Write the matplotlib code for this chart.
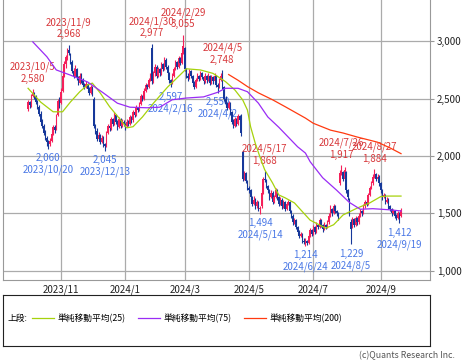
import numpy as np
import pandas as pd
import matplotlib
matplotlib.use('Agg')
import matplotlib.pyplot as plt

plt.rcParams['font.family'] = ['Noto Sans CJK JP', 'DejaVu Sans']

# 東証の休場日（期間内）
holidays = ['2023-10-09', '2023-11-03', '2023-11-23', '2024-01-01', '2024-01-02', '2024-01-03',
            '2024-01-08', '2024-02-12', '2024-02-23', '2024-03-20', '2024-04-29', '2024-05-03',
            '2024-05-06', '2024-07-15', '2024-08-12', '2024-09-16']
days = pd.bdate_range('2023-10-02', '2024-09-20', freq='C', holidays=holidays)

# 日足（始値・高値・安値・終値）
opens = [
    2410,2470,2440,2520,2550,2510,2470,2430,2370,2300,2260,2200,2160,2110,2100,2130,2190,2250,2240,2360,2480,  # 10月
    2460,2570,2700,2800,2860,2920,2890,2820,2740,2700,2760,2680,2640,2700,2660,2620,2600,2630,2580,2550,  # 11月
    2600,2500,2260,2220,2150,2180,2120,2160,2100,2090,2200,2260,2240,2320,2280,2360,2300,2250,2320,2260,2300,  # 12月
    2280,2260,2300,2280,2340,2310,2380,2360,2420,2400,2450,2520,2500,2570,2620,2600,2660,2940,2650,  # 1月
    2720,2780,2700,2760,2720,2800,2760,2840,2780,2720,2660,2640,2700,2760,2820,2780,2850,2810,2900,  # 2月
    2940,2760,2700,2680,2740,2700,2640,2600,2660,2700,2670,2720,2690,2650,2700,2660,2700,2640,2690,2650,  # 3月
    2700,2620,2600,2660,2700,2600,2500,2450,2420,2460,2380,2300,2260,2320,2280,2350,2350,2030,1800,1850,1780,  # 4月
    1720,1700,1640,1580,1620,1560,1600,1540,1560,1680,1800,1790,1740,1700,1640,1680,1600,1640,1700,1640,1580,  # 5月
    1620,1560,1600,1540,1580,1600,1520,1480,1420,1440,1380,1340,1300,1320,1260,1250,1260,1240,1300,1350,  # 6月
    1320,1380,1340,1400,1380,1440,1400,1360,1400,1380,1420,1480,1540,1500,1560,1520,1500,1760,1850,1860,1800,1860,  # 7月
    1700,1620,1420,1380,1450,1400,1460,1420,1480,1520,1500,1560,1600,1580,1660,1720,1760,1820,1840,1800,1820,  # 8月
    1760,1700,1640,1660,1600,1620,1560,1540,1500,1520,1480,1460,1500,1480,  # 9月
]
highs = [
    2490,2480,2540,2580,2560,2530,2490,2440,2390,2320,2280,2230,2170,2140,2160,2220,2270,2270,2370,2500,2510,
    2590,2720,2830,2880,2940,2968,2900,2840,2770,2790,2770,2700,2720,2720,2680,2640,2650,2640,2600,2620,
    2610,2510,2280,2240,2210,2190,2180,2170,2110,2220,2280,2290,2340,2330,2380,2370,2310,2340,2330,2320,2310,
    2290,2320,2310,2360,2350,2400,2390,2440,2430,2470,2540,2530,2590,2640,2630,2680,2720,2977,2740,
    2800,2790,2780,2770,2820,2810,2860,2850,2790,2730,2670,2720,2780,2840,2830,2870,2860,2920,3055,
    2950,2770,2720,2760,2750,2710,2650,2680,2720,2710,2740,2730,2700,2720,2710,2720,2710,2710,2700,2720,
    2710,2640,2680,2720,2748,2610,2520,2470,2480,2470,2390,2320,2340,2330,2370,2360,2370,2040,1870,1860,1790,
    1740,1710,1650,1650,1630,1620,1610,1560,1700,1820,1868,1800,1750,1710,1700,1690,1660,1720,1710,1650,1640,
    1630,1620,1610,1600,1620,1610,1530,1490,1460,1450,1390,1350,1340,1330,1280,1280,1270,1320,1370,1360,
    1400,1390,1420,1410,1460,1450,1410,1420,1410,1440,1500,1570,1550,1580,1570,1530,1510,1880,1917,1870,1900,1870,
    1710,1630,1450,1470,1460,1480,1470,1500,1540,1530,1580,1620,1610,1680,1740,1780,1840,1884,1850,1840,1830,
    1770,1710,1680,1670,1640,1630,1570,1550,1540,1530,1490,1520,1510,1550,
]
lows = [
    2390,2420,2430,2510,2500,2450,2410,2350,2280,2240,2180,2140,2090,2060,2090,2120,2180,2200,2230,2350,2420,
    2450,2560,2690,2770,2840,2880,2800,2720,2680,2690,2660,2620,2630,2640,2600,2580,2590,2560,2530,2540,
    2520,2240,2190,2130,2140,2100,2110,2080,2045,2080,2190,2220,2230,2260,2270,2280,2230,2240,2240,2250,2260,
    2230,2250,2260,2270,2290,2300,2340,2350,2380,2390,2440,2480,2490,2560,2580,2590,2650,2630,2640,
    2700,2680,2690,2700,2710,2740,2750,2760,2700,2640,2597,2630,2690,2750,2760,2770,2790,2800,2890,
    2740,2680,2650,2670,2680,2620,2580,2590,2650,2650,2660,2670,2630,2640,2640,2650,2620,2630,2630,2640,
    2600,2550,2590,2650,2580,2480,2430,2400,2410,2360,2280,2240,2250,2260,2270,2290,2170,1780,1790,1760,1700,
    1680,1620,1560,1570,1540,1550,1520,1494,1550,1670,1770,1720,1680,1620,1630,1580,1590,1630,1620,1560,1570,
    1540,1550,1520,1530,1570,1500,1460,1400,1410,1360,1320,1280,1290,1240,1230,1214,1220,1230,1290,1300,
    1310,1320,1330,1360,1370,1380,1340,1350,1360,1370,1410,1470,1480,1490,1500,1480,1440,1750,1830,1780,1790,1680,
    1620,1480,1229,1370,1380,1390,1400,1410,1470,1480,1490,1550,1560,1570,1650,1710,1750,1810,1780,1790,1740,
    1680,1620,1630,1580,1590,1540,1520,1480,1490,1460,1440,1450,1412,1470,
]
closes = [
    2470,2440,2520,2550,2520,2470,2430,2370,2300,2260,2200,2160,2120,2100,2130,2190,2250,2230,2350,2480,2450,
    2560,2700,2800,2860,2920,2900,2820,2740,2700,2760,2680,2640,2700,2660,2620,2600,2630,2580,2550,2600,
    2540,2260,2220,2150,2180,2120,2160,2100,2090,2200,2260,2240,2320,2280,2360,2300,2250,2320,2260,2300,2280,
    2260,2300,2280,2340,2310,2380,2360,2420,2400,2450,2520,2500,2570,2620,2600,2660,2700,2650,2720,
    2780,2700,2760,2720,2800,2760,2840,2780,2720,2660,2640,2700,2760,2820,2780,2850,2810,2900,2960,
    2760,2700,2680,2740,2700,2640,2600,2660,2700,2670,2720,2690,2650,2700,2660,2700,2640,2690,2650,2700,
    2620,2600,2660,2700,2600,2500,2450,2420,2460,2380,2300,2260,2320,2280,2350,2310,2200,1800,1850,1780,1720,
    1700,1640,1580,1620,1560,1600,1540,1540,1680,1800,1790,1740,1700,1640,1680,1600,1640,1700,1640,1580,1620,
    1560,1600,1540,1580,1600,1520,1480,1420,1440,1380,1340,1300,1320,1260,1250,1260,1240,1300,1350,1320,
    1380,1340,1400,1380,1440,1400,1360,1400,1380,1420,1480,1540,1500,1560,1520,1500,1460,1850,1860,1800,1880,1700,
    1640,1500,1360,1450,1400,1460,1420,1480,1520,1500,1560,1600,1580,1660,1720,1760,1820,1840,1800,1820,1760,
    1700,1640,1660,1600,1620,1560,1540,1500,1520,1480,1460,1500,1480,1530,
]

# 移動平均線（グラフから読み取った値、日インデックス）
ma25_idx = [0, 8, 16, 22, 27, 33, 38, 41, 46, 52, 59, 63, 67, 73, 80, 89, 95, 101, 110, 118, 126, 132,
            137, 140, 142, 145, 148, 151, 156, 160, 164, 170, 177, 180, 190, 195, 201, 210, 218, 225, 229, 238]
ma25_val = [2590, 2470, 2385, 2385, 2470, 2560, 2620, 2635, 2550, 2430, 2315, 2245, 2255, 2340, 2460, 2600,
            2680, 2760, 2750, 2720, 2648, 2575, 2488, 2400, 2255, 2110, 1990, 1880, 1765, 1660, 1635, 1590,
            1485, 1440, 1370, 1400, 1485, 1545, 1590, 1645, 1650, 1650]
ma75_idx = [3, 12, 18, 27, 38, 48, 57, 65, 76, 84, 92, 101, 112, 121, 126, 134, 140, 147, 153, 160, 166,
            172, 177, 180, 188, 197, 205, 212, 220, 231, 238]
ma75_val = [2995, 2865, 2750, 2705, 2645, 2550, 2460, 2425, 2420, 2425, 2490, 2505, 2515, 2555, 2590, 2590,
            2560, 2460, 2340, 2250, 2165, 2080, 2025, 1950, 1810, 1700, 1595, 1535, 1540, 1530, 1520]
ma200_idx = [128, 134, 140, 147, 156, 164, 177, 182, 193, 201, 210, 223, 231, 238]
ma200_val = [2710, 2660, 2605, 2550, 2490, 2430, 2330, 2285, 2225, 2200, 2165, 2120, 2070, 2020]

# 高値・安値の注記
peaks = [('2023/10/5', 2580), ('2023/11/9', 2968), ('2024/1/30', 2977), ('2024/2/29', 3055),
         ('2024/4/5', 2748), ('2024/5/17', 1868), ('2024/7/26', 1917), ('2024/8/27', 1884)]
troughs = [('2023/10/20', 2060), ('2023/12/13', 2045), ('2024/2/16', 2597), ('2024/4/2', 2550),
           ('2024/5/14', 1494), ('2024/6/24', 1214), ('2024/8/5', 1229), ('2024/9/19', 1412)]

month_starts = ['2023-11-01', '2024-01-01', '2024-03-01', '2024-05-01', '2024-07-01', '2024-09-01']
month_labels = ['2023/11', '2024/1', '2024/3', '2024/5', '2024/7', '2024/9']
yticks = [1000, 1500, 2000, 2500, 3000]

W, H = 471, 362
fig = plt.figure(figsize=(W / 100, H / 100), dpi=100)
ax = fig.add_axes([3 / W, (H - 280) / H, 427 / W, 280 / H])

x = np.arange(len(days))
o, hi, lo, c = map(np.array, (opens, highs, lows, closes))
col = np.where(c >= o, '#f5205a', '#16389a')
ax.vlines(x, lo, hi, colors=col, lw=0.8, zorder=3)
ax.bar(x, np.maximum(np.abs(c - o), 8), bottom=np.minimum(o, c), width=0.9, color=col, lw=0, zorder=3)

ax.plot(ma25_idx, ma25_val, color='#a6d20c', lw=0.9, zorder=4)
ax.plot(ma75_idx, ma75_val, color='#9a2cf5', lw=0.9, zorder=4)
ax.plot(ma200_idx, ma200_val, color='#ff3a10', lw=0.9, zorder=4)

for d, v in peaks:
    i = days.get_loc(pd.Timestamp(d))
    ax.annotate(f'{d}\n{v:,}', (i, v), xytext=(0, 4), textcoords='offset points',
                ha='center', va='bottom', fontsize=7, color='#d8393c', linespacing=1.2, zorder=2)
for d, v in troughs:
    i = days.get_loc(pd.Timestamp(d))
    ax.annotate(f'{v:,}\n{d}', (i, v), xytext=(0, -3), textcoords='offset points',
                ha='center', va='top', fontsize=7, color='#4a78e6', linespacing=1.2, zorder=2)

pos = [days.searchsorted(pd.Timestamp(m)) for m in month_starts]
ax.set_xticks(pos, month_labels)
ax.set_yticks(yticks, [f'{v:,}' for v in yticks])
ax.yaxis.tick_right()
ax.tick_params(axis='x', length=0, pad=3, labelsize=7, labelcolor='#222')
ax.tick_params(axis='y', length=3, pad=2, labelsize=7, color='#999', labelcolor='#222')
ax.grid(color='#ababab', lw=0.9)
ax.set_axisbelow(True)
ax.set_xlim(-16, 256.5)
ax.set_ylim(918, 3360)
ax.spines['top'].set_visible(False)
for s in ['left', 'right', 'bottom']:
    ax.spines[s].set_color('#999')

# 凡例
lg = fig.add_axes([3 / W, (H - 346) / H, 427 / W, 51 / H])
lg.set_xlim(0, 427)
lg.set_ylim(51, 0)
lg.set_xticks([])
lg.set_yticks([])
for s in lg.spines.values():
    s.set_color('#222')
lg.text(5, 23, '上段:', fontsize=6.3, va='center')
for x0, colr, lab in [(29, '#a6d20c', '単純移動平均(25)'), (135, '#9a2cf5', '単純移動平均(75)'),
                      (241, '#ff3a10', '単純移動平均(200)')]:
    lg.plot([x0, x0 + 22], [23, 23], color=colr, lw=0.9)
    lg.text(x0 + 26, 23, lab, fontsize=6.3, va='center')

fig.text(455 / W, 1 - 356 / H, '(c)Quants Research Inc.', ha='right', va='center',
         fontsize=6.3, color='#555')

fig.savefig('out.png', dpi=100)
